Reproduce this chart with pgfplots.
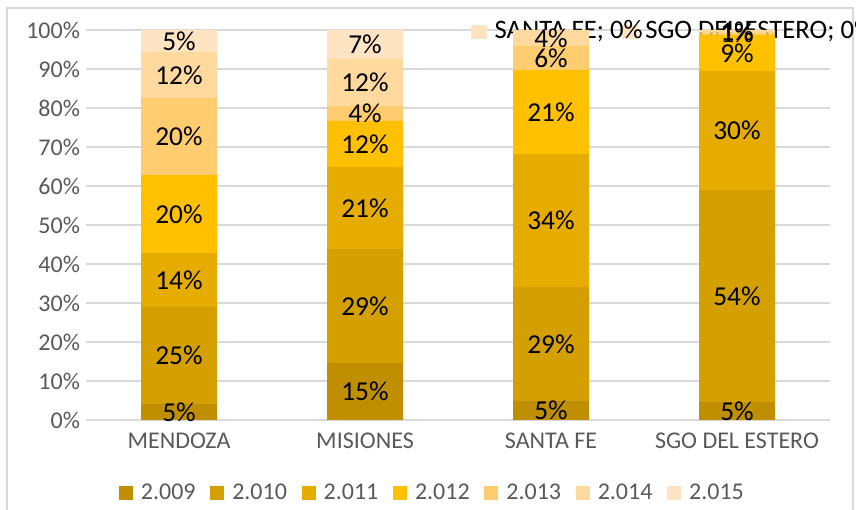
\documentclass[border=0pt]{standalone}
\usepackage{pgfplots}
\pgfplotsset{compat=1.18}
\usepackage{fontspec}
\setmainfont{Carlito}
\definecolor{c09}{HTML}{BF8F00}
\definecolor{c10}{HTML}{D4A000}
\definecolor{c11}{HTML}{E6AD00}
\definecolor{c12}{HTML}{FFC000}
\definecolor{c13}{HTML}{FFCC70}
\definecolor{c14}{HTML}{FFD99E}
\definecolor{c15}{HTML}{FFE4C4}
\definecolor{txtgray}{HTML}{595959}
\definecolor{gridgray}{HTML}{D9D9D9}
\begin{document}
\begin{tikzpicture}
\draw[gridgray, line width=0.9pt] (5.25pt,-5pt) rectangle (639.75pt,376.5pt);
\begin{axis}[
  at={(64.5pt,67.5pt)}, anchor=south west,
  scale only axis, width=558pt, height=292.5pt,
  ybar stacked, bar width=57pt,
  xmin=-0.5, xmax=3.5, ymin=0, ymax=100,
  xtick={0,1,2,3}, xticklabels={MENDOZA,MISIONES,SANTA FE,SGO DEL ESTERO},
  ytick={0,10,...,100},
  yticklabel={\pgfmathprintnumber{\tick}\%},
  ymajorgrids, grid style={gridgray, line width=1.1pt},
  axis line style={draw=none},
  major tick length=0pt,
  tick label style={font=\fontsize{18}{20}\selectfont, text=txtgray},
  xticklabel style={yshift=-6pt},
  yticklabel style={xshift=-1pt},
  /pgf/number format/assume math mode=true,
  clip=false,
  point meta=explicit symbolic,
  nodes near coords={\pgfplotspointmeta},
  every node near coord/.append style={anchor=center, font=\fontsize{20.5}{22}\selectfont, text=black},
  legend columns=7,
  legend style={at={(0.466,-0.187)}, anchor=center, draw=none, fill=none,
    font=\fontsize{18}{20}\selectfont, text=txtgray,
    /tikz/every odd column/.append style={column sep=4pt},
    /tikz/every even column/.append style={column sep=9pt}},
  legend image code/.code={\fill[#1] (0pt,-5.25pt) rectangle (10.5pt,5.25pt);},
]
\addplot[fill=c09, draw=none] coordinates {(0,4.1)[5\%] (1,14.6)[15\%] (2,4.9)[5\%] (3,4.6)[5\%]};
\addplot[fill=c10, draw=none] coordinates {(0,24.9)[25\%] (1,29.2)[29\%] (2,29.2)[29\%] (3,54.4)[54\%]};
\addplot[fill=c11, draw=none] coordinates {(0,13.8)[14\%] (1,21.1)[21\%] (2,34.1)[34\%] (3,30.5)[30\%]};
\addplot[fill=c12, draw=none] coordinates {(0,20.0)[20\%] (1,11.8)[12\%] (2,21.5)[21\%] (3,9.3)[9\%]};
\addplot[fill=c13, draw=none] coordinates {(0,19.8)[20\%] (1,3.8)[4\%] (2,6.2)[6\%] (3,0.6)[1\%]};
\addplot[fill=c14, draw=none] coordinates {(0,11.8)[12\%] (1,12.1)[12\%] (2,4.1)[4\%] (3,0.6)[1\%]};
\addplot[fill=c15, draw=none] coordinates {(0,5.6)[5\%] (1,7.4)[7\%]};
\legend{2.009,2.010,2.011,2.012,2.013,2.014,2.015}
\node[anchor=base west, inner sep=0pt, font=\fontsize{20}{22}\selectfont] at (axis cs:1.57,97.9) {\textcolor{c15}{\rule[-0.75pt]{11.5pt}{11pt}}\hspace{6pt}SANTA FE; 0\%};
\node[anchor=base west, inner sep=0pt, font=\fontsize{20}{22}\selectfont] at (axis cs:2.38,97.9) {\textcolor{c15}{\rule[-0.75pt]{11.5pt}{11pt}}\hspace{6pt}SGO DEL ESTERO; 0\%};
\end{axis}
\pgfresetboundingbox
\useasboundingbox (0,0) rectangle (642pt,382.5pt);
\end{tikzpicture}
\end{document}
